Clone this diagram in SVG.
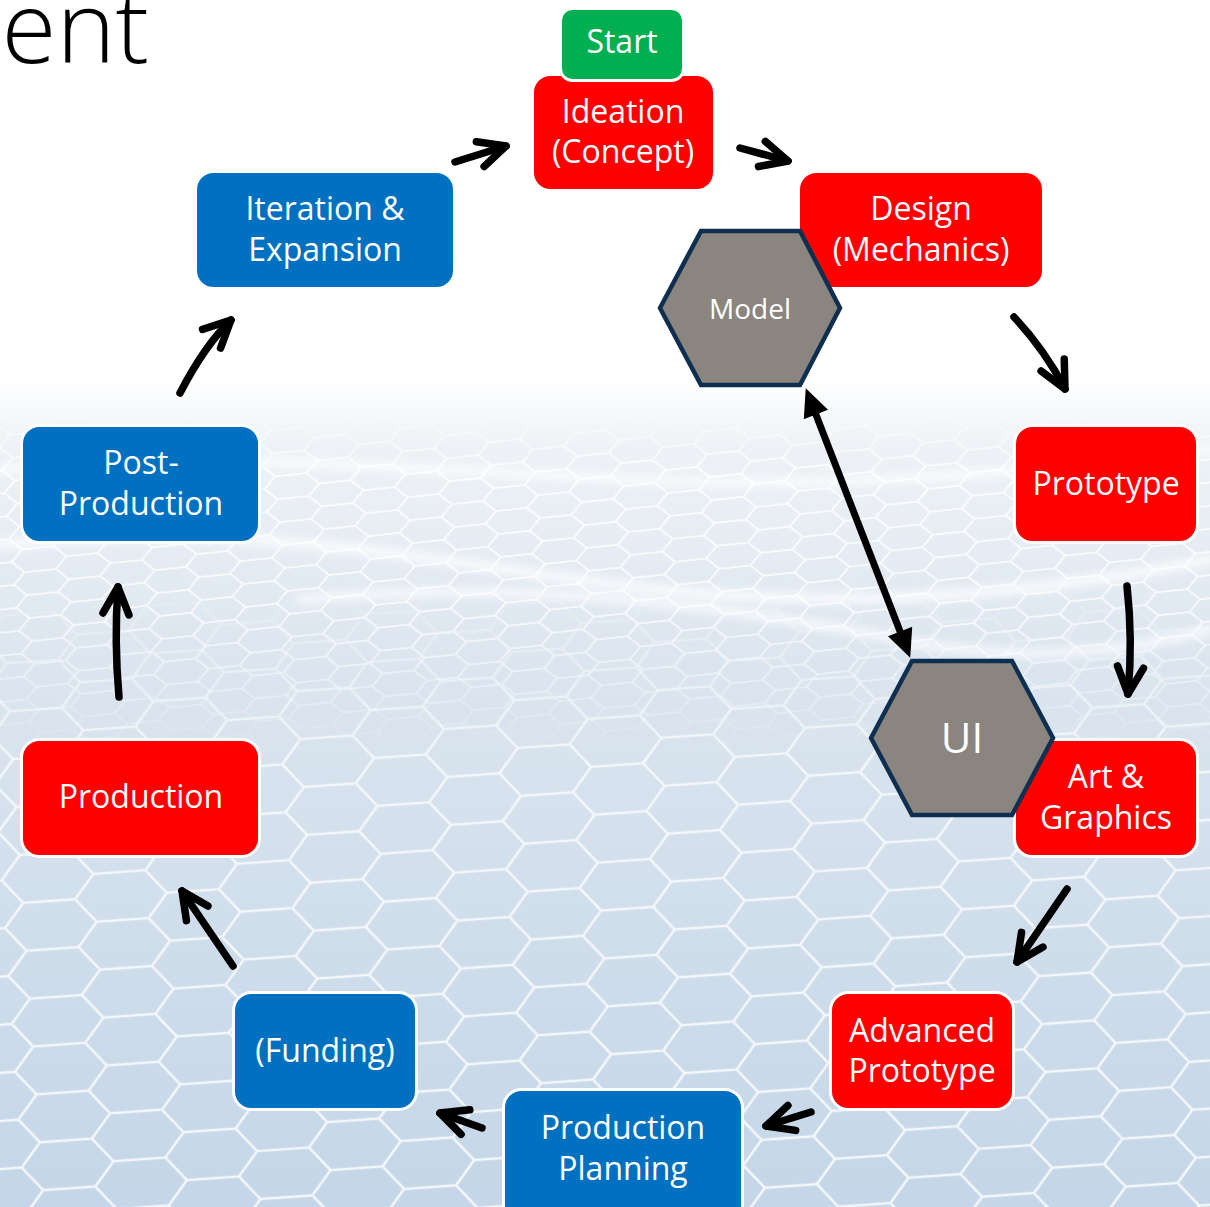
<svg xmlns="http://www.w3.org/2000/svg" width="1210" height="1207" viewBox="0 0 1210 1207">
  <defs>
    <style>
      .lbl { font-family: "Open Sans", "Noto Sans", sans-serif; font-size: 32px; fill: #ffffff; text-anchor: middle; }
      .hexlbl { font-family: "Open Sans", "Noto Sans", sans-serif; fill: #ffffff; text-anchor: middle; }
      .red { fill: #FF0000; stroke: #ffffff; stroke-width: 3; }
      .blue { fill: #0070C0; stroke: #ffffff; stroke-width: 3; }
      .green { fill: #00B050; stroke: #ffffff; stroke-width: 3; }
      .hex { fill: #8B857F; stroke: #0F2F50; stroke-width: 4.5; stroke-linejoin: miter; }
      .flow { fill: none; stroke: #000000; stroke-width: 7.5; stroke-linecap: round; stroke-linejoin: round; marker-end: url(#chev); }
      .link { fill: none; stroke: #000000; stroke-width: 7; marker-start: url(#tri); marker-end: url(#tri); }
    </style>

    <!-- open chevron head for the cycle arrows -->
    <marker id="chev" markerUnits="userSpaceOnUse" orient="auto" refX="0" refY="0" markerWidth="60" markerHeight="60" overflow="visible">
      <path d="M-27,-13 L0,0 L-27,13" fill="none" stroke="#000" stroke-width="7.5" stroke-linecap="round" stroke-linejoin="round"/>
    </marker>
    <!-- solid triangular head for the two-way link -->
    <marker id="tri" markerUnits="userSpaceOnUse" orient="auto-start-reverse" refX="0" refY="0" markerWidth="60" markerHeight="60" overflow="visible">
      <path d="M20,0 L-8,-13 L-8,13 Z" fill="#000"/>
    </marker>

    <!-- background mesh -->
    <linearGradient id="bgFade" x1="0" y1="380" x2="0" y2="1207" gradientUnits="userSpaceOnUse">
      <stop offset="0" stop-color="#ffffff"/>
      <stop offset="0.08" stop-color="#eef2f6"/>
      <stop offset="0.35" stop-color="#dbe5ef"/>
      <stop offset="1" stop-color="#c4d6e7"/>
    </linearGradient>
    <pattern id="hexBig" patternUnits="userSpaceOnUse" width="144" height="48" patternTransform="translate(10,1000) rotate(-4)">
      <path d="M0,24 L20,0 L72,0 L92,24 L144,24 M0,24 L20,48 L72,48 L92,24" fill="none" stroke="#f4f7fa" stroke-width="2.6"/>
    </pattern>
    <pattern id="hexSmall" patternUnits="userSpaceOnUse" width="144" height="48" patternTransform="translate(40,420) rotate(-6) scale(0.6,0.48)">
      <path d="M0,24 L20,0 L72,0 L92,24 L144,24 M0,24 L20,48 L72,48 L92,24" fill="none" stroke="#ffffff" stroke-width="3.5"/>
    </pattern>
    <linearGradient id="fadeBig" x1="0" y1="560" x2="0" y2="760" gradientUnits="userSpaceOnUse">
      <stop offset="0" stop-color="#fff" stop-opacity="0"/>
      <stop offset="1" stop-color="#fff" stop-opacity="1"/>
    </linearGradient>
    <linearGradient id="fadeSmall" x1="0" y1="400" x2="0" y2="760" gradientUnits="userSpaceOnUse">
      <stop offset="0" stop-color="#fff" stop-opacity="0"/>
      <stop offset="0.2" stop-color="#fff" stop-opacity="0.9"/>
      <stop offset="0.6" stop-color="#fff" stop-opacity="0.8"/>
      <stop offset="1" stop-color="#fff" stop-opacity="0"/>
    </linearGradient>
    <mask id="mBig"><rect x="0" y="380" width="1210" height="827" fill="url(#fadeBig)"/></mask>
    <mask id="mSmall"><rect x="0" y="380" width="1210" height="400" fill="url(#fadeSmall)"/></mask>
    <filter id="soft" x="-10%" y="-50%" width="120%" height="200%">
      <feGaussianBlur stdDeviation="4"/>
    </filter>
  </defs>

  <!-- backdrop -->
  <rect width="1210" height="1207" fill="#ffffff"/>
  <rect x="0" y="380" width="1210" height="827" fill="url(#bgFade)"/>
  <rect x="0" y="380" width="1210" height="400" fill="url(#hexSmall)" mask="url(#mSmall)"/>
  <rect x="0" y="380" width="1210" height="827" fill="url(#hexBig)" mask="url(#mBig)"/>
  <g fill="none" stroke="#ffffff" stroke-linecap="round" filter="url(#soft)" opacity="0.8">
    <path d="M0,545 C250,520 420,560 620,585 C820,610 1000,600 1210,560" stroke-width="10"/>
    <path d="M300,600 C500,580 700,600 900,640 C1030,665 1130,650 1210,630" stroke-width="8"/>
    <path d="M0,470 C200,450 420,470 640,480 C860,490 1040,470 1210,450" stroke-width="8"/>
  </g>

  <!-- heading fragment -->
  <text x="149" y="63" font-family="'Open Sans','Noto Sans',sans-serif" font-weight="300" font-size="100" fill="#000" text-anchor="end">ent</text>

  <!-- connectors -->
  <g id="connectors">
    <path class="flow" d="M455,162 L506,146"/>
    <path class="flow" d="M740,148 L788,161"/>
    <path class="flow" d="M1014,317 Q1045,350 1065,389"/>
    <path class="flow" d="M1127,586 Q1133,640 1128,694"/>
    <path class="flow" d="M1067,889 L1017,962"/>
    <path class="flow" d="M811,1112 L766,1126"/>
    <path class="flow" d="M482,1128 L440,1113"/>
    <path class="flow" d="M233,966 L182,891"/>
    <path class="flow" d="M119,697 Q114,640 118,587"/>
    <path class="flow" d="M180,393 Q205,345 231,320"/>
    <path class="link" d="M813,407 L903,639"/>
  </g>

  <!-- nodes -->
  <g id="ideation">
    <rect class="red" x="532.5" y="74.5" width="182" height="116" rx="18"/>
    <text class="lbl" x="623" y="123">Ideation</text>
    <text class="lbl" x="623" y="163">(Concept)</text>
  </g>
  <g id="start">
    <rect class="green" x="560.5" y="8.5" width="123" height="72" rx="12"/>
    <text class="lbl" x="622" y="53">Start</text>
  </g>
  <g id="design">
    <rect class="red" x="798.5" y="171.5" width="245" height="117" rx="18"/>
    <text class="lbl" x="921" y="220">Design</text>
    <text class="lbl" x="921" y="261">(Mechanics)</text>
  </g>
  <g id="model">
    <path class="hex" d="M660,308 L701,231 L800,231 L840,308 L800,385 L701,385 Z"/>
    <text class="hexlbl" x="750" y="319" font-size="28">Model</text>
  </g>
  <g id="iteration">
    <rect class="blue" x="195.5" y="171.5" width="259" height="117" rx="18"/>
    <text class="lbl" x="325" y="220">Iteration &amp;</text>
    <text class="lbl" x="325" y="261">Expansion</text>
  </g>
  <g id="prototype">
    <rect class="red" x="1014.5" y="425.5" width="183" height="117" rx="18"/>
    <text class="lbl" x="1106" y="495">Prototype</text>
  </g>
  <g id="post-production">
    <rect class="blue" x="21.5" y="425.5" width="238" height="117" rx="18"/>
    <text class="lbl" x="141" y="474">Post-</text>
    <text class="lbl" x="141" y="515">Production</text>
  </g>
  <g id="art-graphics">
    <rect class="red" x="1014.5" y="739.5" width="183" height="117" rx="18"/>
    <text class="lbl" x="1106" y="788">Art &amp;</text>
    <text class="lbl" x="1106" y="829">Graphics</text>
  </g>
  <g id="ui">
    <path class="hex" d="M871,738 L912,661 L1012,661 L1053,738 L1012,815 L912,815 Z"/>
    <text class="hexlbl" x="962" y="753" font-size="42">UI</text>
  </g>
  <g id="production">
    <rect class="red" x="21.5" y="739.5" width="238" height="117" rx="18"/>
    <text class="lbl" x="141" y="808">Production</text>
  </g>
  <g id="advanced-prototype">
    <rect class="red" x="830.5" y="992.5" width="183" height="117" rx="18"/>
    <text class="lbl" x="922" y="1042">Advanced</text>
    <text class="lbl" x="922" y="1082">Prototype</text>
  </g>
  <g id="funding">
    <rect class="blue" x="233.5" y="992.5" width="183" height="117" rx="18"/>
    <text class="lbl" x="325" y="1062">(Funding)</text>
  </g>
  <g id="production-planning">
    <rect class="blue" x="503.5" y="1089.5" width="239" height="135" rx="18"/>
    <text class="lbl" x="623" y="1139">Production</text>
    <text class="lbl" x="623" y="1180">Planning</text>
  </g>
</svg>
